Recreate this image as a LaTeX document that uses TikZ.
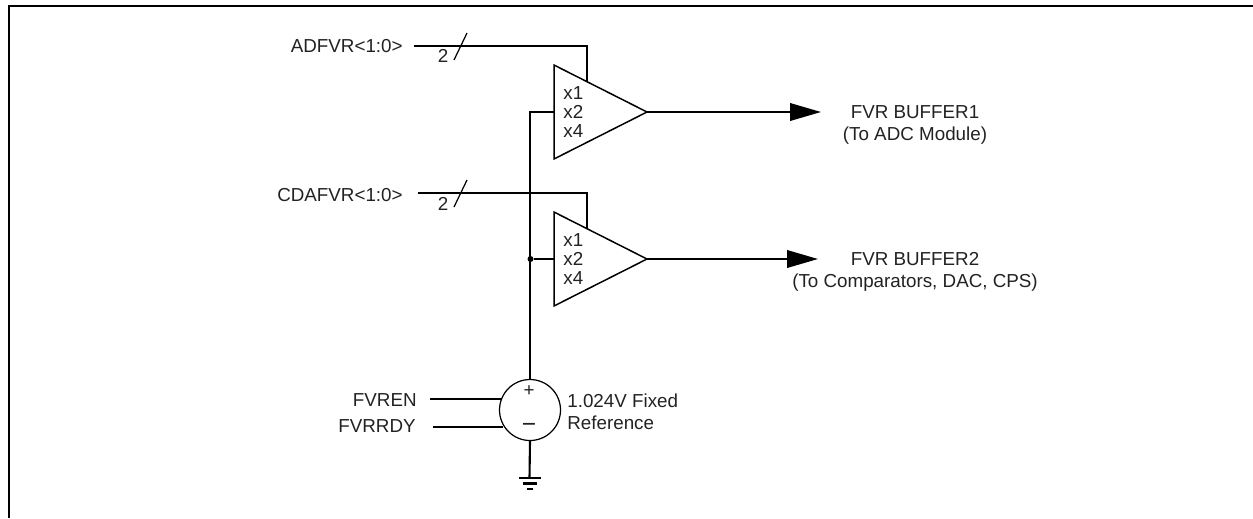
\documentclass[tikz,border=0pt]{standalone}
\usepackage{fontspec}
\setmainfont{Liberation Sans}
\usetikzlibrary{
  positioning,
  shapes.geometric,
  arrows.meta,
  calc,
}
\definecolor{border}{HTML}{000000}
\definecolor{textCol}{HTML}{222222}
\tikzset{
  label/.style={font=\fontsize{10.7}{12.5}\selectfont, text=textCol, inner sep=0pt},
  buffer/.style={
    isosceles triangle, isosceles triangle stretches, draw=border, fill=white,
    minimum width=1.88cm, minimum height=1.86cm, inner sep=0pt, outer sep=0pt,
    anchor=lower side, line width=0.85pt,
  },
  gainlist/.style={label, align=left, anchor=west, font=\fontsize{10.7}{10.8}\selectfont},
  source/.style={circle, draw=border, fill=white, minimum size=1.22cm, inner sep=0pt, outer sep=0pt, line width=0.7pt},
  junction/.style={circle, fill=border, minimum size=0.12cm, inner sep=0pt},
  wire/.style={border, line width=1.2pt},
  slash/.style={border, line width=0.7pt},
  outarrow/.style={wire, -{Triangle[length=0.62cm, width=0.35cm]}},
}

\begin{document}
\begin{tikzpicture}[x=0.02cm, y=-0.02cm]
  \useasboundingbox (0, 0) rectangle (1253, 518);

  % Frame
  \draw[border, line width=1.2pt] (9, 518) -- (9, 6) -- (1253, 6);

  % Amplifiers
  \node[buffer] (buf1) at (554, 112) {};
  \node[buffer] (buf2) at (554, 259) {};
  \node[gainlist] (gain1) at (563, 112) {x1\\x2\\x4};
  \node[gainlist] (gain2) at (563, 259) {x1\\x2\\x4};

  % Reference source
  \node[source] (vref) at (530, 410) {};
  \node[label] (vplus) at (529, 391) {+};
  \node[label, font=\fontsize{14}{14}\selectfont] (vminus) at (529, 428) {−};
  \node[junction] (dot1) at (530.5, 259) {};

  % Gain select inputs
  \node[label, anchor=east] (adfvr) at (403, 46) {ADFVR<1:0>};
  \node[label, anchor=east] (cdafvr) at (403, 195) {CDAFVR<1:0>};
  \coordinate (adIn) at (414, 46);
  \coordinate (cdIn) at (418, 193);
  \draw[wire] (adIn) -| ($(buf1.left corner)!0.35!(buf1.apex)$);
  \draw[wire] (cdIn) -| ($(buf2.left corner)!0.35!(buf2.apex)$);

  \node[label] (bus1) at (443, 56) {2};
  \node[label] (bus2) at (443, 204) {2};
  \coordinate (s1a) at (454, 60);
  \coordinate (s1b) at (467, 33);
  \coordinate (s2a) at (454, 207);
  \coordinate (s2b) at (467, 180);
  \draw[slash] (s1a) -- (s1b);
  \draw[slash] (s2a) -- (s2b);

  % Reference line
  \draw[wire] (vref.north) |- (buf1.lower side);
  \draw[wire] (dot1) -- (buf2.lower side);

  % Outputs
  \coordinate (out1) at (821, 112);
  \coordinate (out2) at (818, 259);
  \draw[outarrow] (buf1.apex) -- (out1);
  \draw[outarrow] (buf2.apex) -- (out2);
  \node[label, align=center] (fvr1) at (915, 124.5) {FVR BUFFER1\\(To ADC Module)};
  \node[label, align=center] (fvr2) at (915, 271.5) {FVR BUFFER2\\(To Comparators, DAC, CPS)};

  % Source inputs and text
  \node[label, anchor=east] (fvren) at (417, 400) {FVREN};
  \node[label, anchor=east] (fvrrdy) at (416, 426) {FVRRDY};
  \coordinate (enIn) at (430, 399);
  \coordinate (rdyIn) at (433, 427);
  \draw[wire] (enIn) -- (enIn -| {$(vref.center)+(-28.5,0)$});
  \draw[wire] (rdyIn) -- (rdyIn -| {$(vref.center)+(-27,0)$});
  \node[label, align=left, anchor=west] (vtext) at (567, 412) {1.024V Fixed\\Reference};

  % Ground
  \coordinate (gnd) at (529.5, 478);
  \draw[wire] (vref.south) -- (gnd);
  \foreach \y/\w in {0/11, 5.5/7, 11/3} {
    \draw[wire] ($(gnd)+(-\w,\y)$) -- ($(gnd)+(\w,\y)$);
  }

\end{tikzpicture}
\end{document}
